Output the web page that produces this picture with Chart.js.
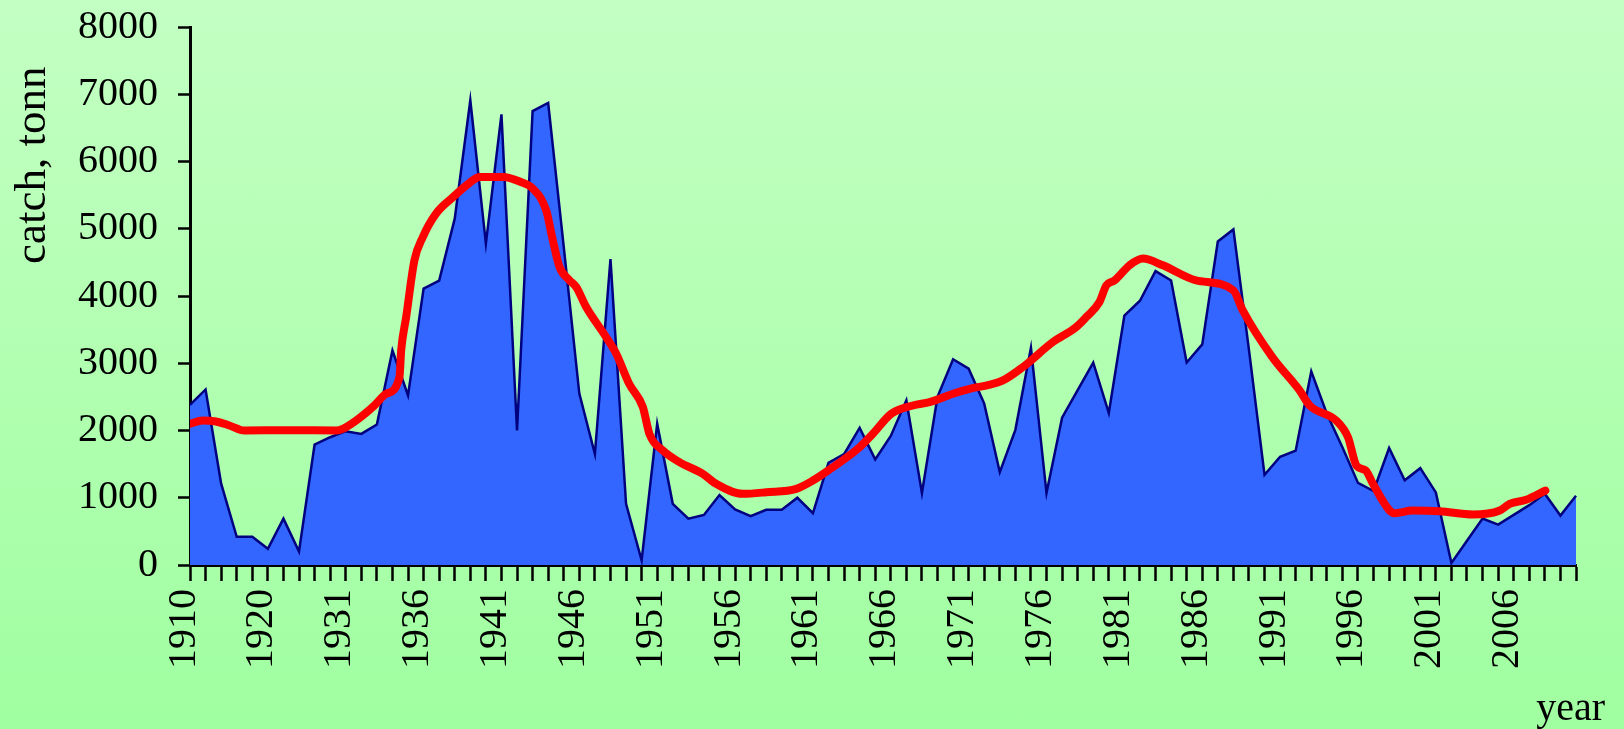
<!DOCTYPE html>
<html>
<head>
<meta charset="utf-8">
<script src="https://cdn.jsdelivr.net/npm/chart.js@4.4.1/dist/chart.umd.min.js"></script>
<style>
  html, body { margin: 0; padding: 0; overflow: hidden; }
  body { width: 1624px; height: 729px; background: linear-gradient(to bottom, #c3ffc3, #a0ffa0); }
  canvas { display: block; }
</style>
</head>
<body>
<canvas id="catchChart" width="1624" height="729"></canvas>
<script>
// years on the category axis (early years are not yearly)
var years = [
  "1910","1912","1914","1916","1918","1920","1922","1924","1926","1928",
  "1931","1932","1933","1934","1935","1936","1937","1938","1939","1940",
  "1941","1942","1943","1944","1945","1946","1947","1948","1949","1950",
  "1951","1952","1953","1954","1955","1956","1957","1958","1959","1960",
  "1961","1962","1963","1964","1965","1966","1967","1968","1969","1970",
  "1971","1972","1973","1974","1975","1976","1977","1978","1979","1980",
  "1981","1982","1983","1984","1985","1986","1987","1988","1989","1990",
  "1991","1992","1993","1994","1995","1996","1997","1998","1999","2000",
  "2001","2002","2003","2004","2005","2006","2007","2008","2009","2010"
];

// catch, tonnes
var catchVals = [
  2380, 2610, 1210, 420, 420, 240, 690, 200, 1790, 1900,
  1990, 1950, 2090, 3190, 2520, 4110, 4230, 5150, 6910, 4780,
  6700, 2000, 6750, 6870, 4730, 2550, 1650, 4550, 910, 70,
  2100, 910, 690, 745, 1040, 825, 725, 820, 820, 1000,
  770, 1520, 1650, 2040, 1570, 1920, 2450, 1070, 2500, 3060,
  2920, 2400, 1380, 2010, 3230, 1070, 2190, 2600, 3010, 2260,
  3710, 3930, 4370, 4230, 3010, 3280, 4810, 4990, 3200, 1340,
  1610, 1700, 2880, 2250, 1750, 1220, 1100, 1740, 1260, 1440,
  1080, 30, 360, 690, 600, 745, 890, 1060, 735, 1030
];

// smoothed trend (red), position along the category axis + value
var trendPos = [
  0, 0.82, 1.67, 2.53, 3.49, 6.4, 9.38, 9.81, 10.67, 11.84,
  12.6, 13.45, 13.56, 13.88, 14.41, 14.95, 15.8, 16.9, 17.9, 18.6,
  20.1, 21.2, 22.0, 22.87, 23.3, 23.73, 24.37, 24.8, 25.44, 26.72,
  27.37, 28.2, 29.08, 29.5, 30.36, 31.43, 32.93, 33.79, 35.5, 37,
  38.93, 40, 41.28, 43, 43.85, 45.03, 46.42, 47.49, 48.99, 50.06,
  51.3, 52.2, 53.48, 55.4, 56.9, 57.55, 58.4, 58.84, 59.37, 60.33,
  61.19, 62.47, 64.6, 67.0, 67.6, 69.5, 71.25, 71.9, 73.6, 74.36,
  74.9, 75.5, 75.96, 77.03, 77.35, 78.5, 80.24, 82.38, 84.1, 84.74,
  85.8, 87.03
];
var trendVals = [
  2100, 2149, 2134, 2075, 2000, 2005, 2000, 2025, 2149, 2372,
  2546, 2794, 3190, 3686, 4530, 4877, 5225, 5472, 5672, 5770,
  5770, 5700, 5600, 5274, 4828, 4431, 4233, 4134, 3835, 3389,
  3142, 2695, 2348, 1951, 1703, 1529, 1356, 1207, 1058, 1082,
  1133, 1256, 1454, 1752, 1951, 2248, 2372, 2422, 2546, 2620,
  2680, 2744, 2943, 3314, 3538, 3686, 3910, 4158, 4233, 4456,
  4556, 4456, 4233, 4084, 3786, 3091, 2596, 2372, 2149, 1900,
  1479, 1405, 1207, 810, 770, 810, 799, 750, 810, 909,
  969, 1107
];

var yTicks = [0, 1000, 2000, 3000, 4000, 5000, 6000, 7000, 8000];

var serif = '"Liberation Serif", "Times New Roman", serif';

var trendData = [];
for (var i = 0; i < trendPos.length; i++) {
  trendData.push({ x: trendPos[i], y: trendVals[i] });
}

// axis titles drawn by hand so they sit where the original has them
var axisTitles = {
  id: 'axisTitles',
  afterDraw: function(chart) {
    var ctx = chart.ctx;
    var area = chart.chartArea;
    ctx.save();
    ctx.fillStyle = '#000';
    ctx.font = '40px ' + serif;
    ctx.textAlign = 'right';
    ctx.textBaseline = 'alphabetic';
    ctx.fillText('year', area.right + 29, chart.height - 9);

    // the original title is cut off at the top
    ctx.beginPath();
    ctx.rect(0, 64, 120, 260);
    ctx.clip();
    ctx.font = '45px ' + serif;
    ctx.translate(45, 264);
    ctx.rotate(-Math.PI / 2);
    ctx.textAlign = 'left';
    ctx.fillText('catch, tonn', 0, 0);
    ctx.restore();
  }
};

var ctx1 = document.getElementById('catchChart').getContext('2d');
var chart1 = new Chart(ctx1, {
  type: 'line',
  data: {
    labels: years,
    datasets: [
      {
        label: 'trend',
        data: trendData,
        xAxisID: 'xt',
        borderColor: '#ff0000',
        borderWidth: 8,
        borderCapStyle: 'round',
        borderJoinStyle: 'round',
        cubicInterpolationMode: 'monotone',
        pointRadius: 0,
        fill: false,
        order: 0
      },
      {
        label: 'catch',
        data: catchVals,
        xAxisID: 'x',
        borderColor: '#000080',
        borderWidth: 2.5,
        backgroundColor: '#3366ff',
        pointRadius: 0,
        tension: 0,
        fill: 'origin',
        order: 1
      }
    ]
  },
  options: {
    responsive: false,
    animation: false,
    devicePixelRatio: 1,
    layout: { padding: { top: 27, right: 48, left: 0, bottom: 0 } },
    plugins: {
      legend: { display: false },
      tooltip: { enabled: false }
    },
    scales: {
      x: {
        type: 'category',
        offset: false,
        grid: {
          drawOnChartArea: false,
          drawTicks: true,
          tickLength: 16,
          tickWidth: 2.5,
          color: '#000'
        },
        border: { color: '#000', width: 3 },
        ticks: {
          autoSkip: false,
          minRotation: 90,
          maxRotation: 90,
          padding: 8,
          labelOffset: -6,
          color: '#000',
          font: { family: serif, size: 40 },
          callback: function(value, index) {
            return index % 5 === 0 ? years[index] : '';
          }
        },
        afterFit: function(scale) {
          scale.height = 164;
          scale.paddingLeft = 0;
          scale.paddingRight = 0;
        }
      },
      xt: {
        type: 'linear',
        display: false,
        min: 0,
        max: catchVals.length - 1
      },
      y: {
        min: yTicks[0],
        max: yTicks[yTicks.length - 1],
        grid: {
          drawOnChartArea: false,
          drawTicks: true,
          tickLength: 12,
          tickWidth: 2.5,
          color: '#000'
        },
        border: { color: '#000', width: 3 },
        afterBuildTicks: function(scale) {
          scale.ticks = yTicks.map(function(v) { return { value: v }; });
        },
        ticks: {
          padding: 20,
          color: '#000',
          font: { family: serif, size: 40 },
          callback: function(value) { return String(value); }
        },
        afterFit: function(scale) {
          scale.width = 190;
          scale.paddingTop = 0;
          scale.paddingBottom = 0;
        }
      }
    }
  },
  plugins: [axisTitles]
});
</script>
</body>
</html>
